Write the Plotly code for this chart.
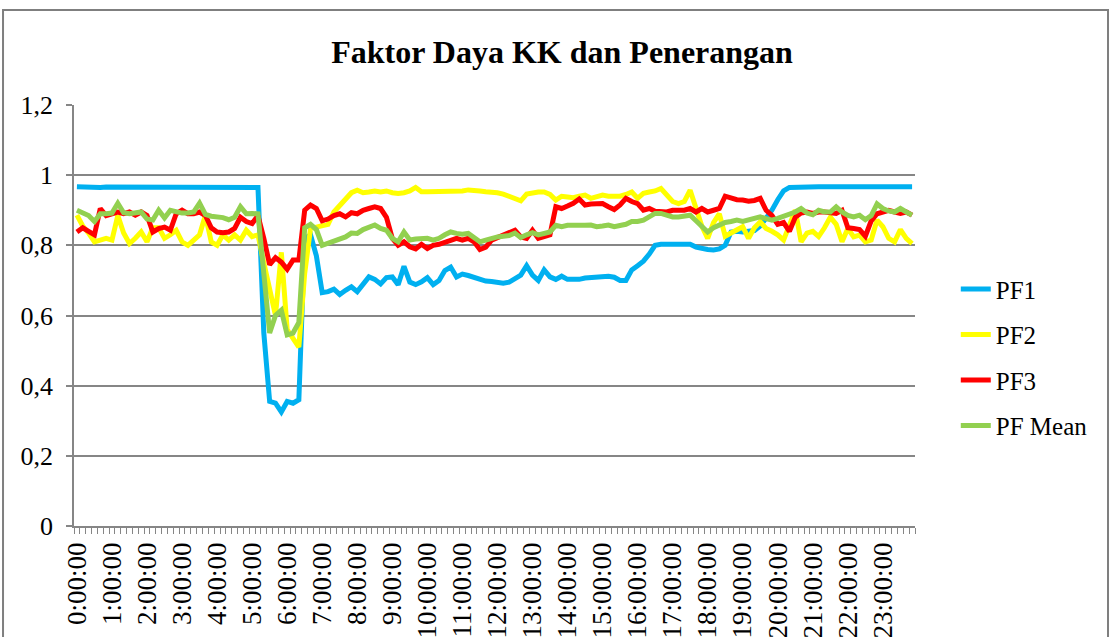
import plotly.graph_objects as go

# 10-minute categories over one day
times = [f"{h}:{m:02d}:00" for h in range(24) for m in range(0, 60, 10)]

hour_labels = ["0:00:00", "1:00:00", "2:00:00", "3:00:00", "4:00:00", "5:00:00",
               "6:00:00", "7:00:00", "8:00:00", "9:00:00", "10:00:00", "11:00:00",
               "12:00:00", "13:00:00", "14:00:00", "15:00:00", "16:00:00", "17:00:00",
               "18:00:00", "19:00:00", "20:00:00", "21:00:00", "22:00:00", "23:00:00"]

y_ticks = [0, 0.2, 0.4, 0.6, 0.8, 1.0, 1.2]
y_tick_labels = ["0", "0,2", "0,4", "0,6", "0,8", "1", "1,2"]

pf1 = [0.967, 0.966, 0.966, 0.966, 0.965, 0.966, 0.966, 0.965, 0.966, 0.966,
       0.965, 0.965, 0.964, 0.964, 0.965, 0.966, 0.966, 0.965, 0.965, 0.965,
       0.965, 0.966, 0.966, 0.966, 0.966, 0.967, 0.967, 0.967, 0.967, 0.966,
       0.966, 0.965, 0.55, 0.355, 0.35, 0.325, 0.355, 0.35, 0.36, 0.82,
       0.83, 0.77, 0.665, 0.668, 0.675, 0.66, 0.672, 0.682, 0.668, 0.69,
       0.71, 0.703, 0.69, 0.708, 0.71, 0.688, 0.74, 0.695, 0.688, 0.696,
       0.708, 0.688, 0.70, 0.728, 0.738, 0.71, 0.718, 0.714, 0.708, 0.702,
       0.698, 0.697, 0.695, 0.692, 0.695, 0.705, 0.715, 0.742, 0.715, 0.70,
       0.73, 0.71, 0.703, 0.712, 0.703, 0.703, 0.703, 0.707, 0.709, 0.709,
       0.71, 0.712, 0.709, 0.70, 0.70, 0.73, 0.742, 0.755, 0.775, 0.80,
       0.803, 0.803, 0.803, 0.803, 0.803, 0.803, 0.795, 0.79, 0.788, 0.787,
       0.79, 0.80, 0.838, 0.84, 0.838, 0.84, 0.842, 0.855, 0.875, 0.90,
       0.93, 0.955, 0.965, 0.966, 0.966, 0.966, 0.967, 0.967, 0.967, 0.967,
       0.967, 0.967, 0.967, 0.968, 0.968, 0.968, 0.968, 0.967, 0.967, 0.967,
       0.967, 0.967, 0.967, 0.967]

pf2 = [0.886, 0.855, 0.835, 0.81, 0.815, 0.82, 0.815, 0.885, 0.835, 0.805,
       0.82, 0.838, 0.81, 0.85, 0.85, 0.82, 0.83, 0.843, 0.81, 0.80,
       0.815, 0.83, 0.886, 0.81, 0.80, 0.83, 0.815, 0.83, 0.815, 0.843,
       0.825, 0.83, 0.75, 0.68, 0.60, 0.78, 0.56, 0.535, 0.51, 0.72,
       0.848, 0.852, 0.855, 0.86, 0.895, 0.915, 0.93, 0.95, 0.957, 0.95,
       0.952, 0.955, 0.952, 0.955, 0.95, 0.948, 0.95, 0.955, 0.965, 0.953,
       0.953, 0.953, 0.954, 0.955, 0.956, 0.956, 0.955, 0.958, 0.955, 0.955,
       0.953, 0.952, 0.95, 0.946, 0.94, 0.935, 0.927, 0.946, 0.95, 0.952,
       0.952, 0.945, 0.929, 0.94, 0.938, 0.936, 0.94, 0.943, 0.934, 0.94,
       0.943, 0.94, 0.94, 0.94, 0.945, 0.952, 0.934, 0.948, 0.952, 0.955,
       0.962, 0.945, 0.925, 0.919, 0.925, 0.957, 0.905, 0.855, 0.82, 0.865,
       0.89, 0.826, 0.835, 0.845, 0.853, 0.82, 0.85, 0.867, 0.848, 0.84,
       0.83, 0.815, 0.86, 0.90, 0.81, 0.835, 0.84, 0.825, 0.85, 0.88,
       0.86, 0.81, 0.848, 0.824, 0.829, 0.81, 0.815, 0.872, 0.853, 0.82,
       0.81, 0.845, 0.82, 0.805]

pf3 = [0.838, 0.85, 0.84, 0.83, 0.905, 0.885, 0.89, 0.895, 0.89, 0.895,
       0.886, 0.895, 0.885, 0.838, 0.848, 0.852, 0.843, 0.89, 0.90, 0.89,
       0.89, 0.895, 0.885, 0.85, 0.838, 0.836, 0.838, 0.848, 0.88, 0.868,
       0.862, 0.885, 0.82, 0.745, 0.765, 0.752, 0.732, 0.758, 0.758, 0.90,
       0.915, 0.905, 0.87, 0.875, 0.885, 0.89, 0.881, 0.893, 0.89, 0.90,
       0.905, 0.91, 0.905, 0.88, 0.82, 0.80, 0.81, 0.796, 0.79, 0.803,
       0.791, 0.80, 0.803, 0.808, 0.815, 0.82, 0.815, 0.82, 0.81, 0.788,
       0.795, 0.815, 0.822, 0.828, 0.835, 0.843, 0.824, 0.82, 0.843, 0.82,
       0.825, 0.83, 0.91, 0.905, 0.912, 0.92, 0.932, 0.915, 0.918, 0.919,
       0.919, 0.91, 0.902, 0.915, 0.934, 0.925, 0.919, 0.90, 0.905, 0.897,
       0.895, 0.895, 0.90, 0.90, 0.90, 0.905, 0.895, 0.905, 0.895, 0.90,
       0.905, 0.94, 0.935, 0.93, 0.929, 0.926, 0.928, 0.934, 0.90, 0.885,
       0.86, 0.865, 0.84, 0.88, 0.892, 0.895, 0.891, 0.895, 0.895, 0.893,
       0.891, 0.90, 0.85, 0.848, 0.845, 0.826, 0.87, 0.89, 0.895, 0.90,
       0.895, 0.891, 0.895, 0.886]

pf_mean = [0.90, 0.893, 0.885, 0.868, 0.89, 0.89, 0.892, 0.92, 0.893, 0.89,
           0.891, 0.895, 0.875, 0.872, 0.90, 0.878, 0.90, 0.895, 0.892, 0.892,
           0.895, 0.92, 0.888, 0.883, 0.881, 0.879, 0.873, 0.88, 0.91, 0.89,
           0.891, 0.89, 0.72, 0.55, 0.60, 0.615, 0.545, 0.55, 0.58, 0.85,
           0.86, 0.845, 0.80, 0.806, 0.815, 0.82, 0.824, 0.835, 0.834, 0.845,
           0.852, 0.858, 0.848, 0.843, 0.82, 0.81, 0.838, 0.815, 0.818, 0.82,
           0.82, 0.815, 0.82, 0.83, 0.838, 0.834, 0.832, 0.834, 0.822, 0.81,
           0.815, 0.82, 0.824, 0.826, 0.828, 0.835, 0.822, 0.83, 0.836, 0.83,
           0.834, 0.838, 0.857, 0.853, 0.857, 0.856, 0.855, 0.857, 0.858, 0.853,
           0.855, 0.858, 0.853, 0.856, 0.86, 0.868, 0.868, 0.872, 0.882, 0.891,
           0.891, 0.887, 0.881, 0.881, 0.885, 0.886, 0.87, 0.855, 0.838, 0.85,
           0.857, 0.865, 0.868, 0.872, 0.868, 0.872, 0.878, 0.881, 0.876, 0.872,
           0.877, 0.883, 0.886, 0.895, 0.905, 0.892, 0.887, 0.90, 0.895, 0.895,
           0.91, 0.895, 0.885, 0.881, 0.886, 0.873, 0.885, 0.918, 0.905, 0.898,
           0.895, 0.905, 0.895, 0.886]

series = [("PF1", pf1, "#00B0F0"), ("PF2", pf2, "#FFFF00"),
          ("PF3", pf3, "#FF0000"), ("PF Mean", pf_mean, "#92D050")]

x_idx = list(range(len(times)))
hour_pos = [times.index(lbl) for lbl in hour_labels]

fig = go.Figure()
for name, vals, color in series:
    assert len(vals) == len(times), (name, len(vals))
    fig.add_trace(go.Scatter(x=x_idx, y=vals, name=name, mode="lines",
                             line=dict(color=color, width=5),
                             legendgroup=name, customdata=times,
                             hovertemplate="%{customdata}: %{y}<extra>" + name + "</extra>"))

FONT = "Liberation Serif, Times New Roman, serif"
grid_col = "#868686"

fig.update_layout(
    width=1113, height=637,
    margin=dict(l=74, r=198, t=105, b=111, autoexpand=False),
    paper_bgcolor="white", plot_bgcolor="white",
    font=dict(family=FONT, size=26, color="black"),
    title=dict(text="<b>Faktor Daya KK dan Penerangan</b>", x=0.505, xanchor="center",
               y=0.918, yanchor="middle", font=dict(family=FONT, size=32, color="black")),
    showlegend=True,
    legend=dict(x=1.0485, xanchor="left", y=0.617, yanchor="top",
                font=dict(family=FONT, size=25), tracegroupgap=10,
                traceorder="grouped", bgcolor="rgba(0,0,0,0)"),
    xaxis=dict(range=[-0.5, len(times) - 0.5], tickmode="array", tickvals=hour_pos,
               ticktext=hour_labels, tickangle=-90, ticks="", showgrid=False,
               zeroline=False, showline=True, linecolor=grid_col, linewidth=1.5,
               tickfont=dict(family=FONT, size=27), ticklabelstandoff=4, automargin=False,
               minor=dict(ticks="outside", ticklen=6, tickcolor=grid_col, tickwidth=1,
                          tickmode="linear", tick0=-0.5, dtick=1, showgrid=False)),
    yaxis=dict(range=[0, 1.2], tickmode="array", tickvals=y_ticks, ticktext=y_tick_labels,
               ticks="outside", ticklen=6, tickcolor=grid_col, tickwidth=1.5,
               showgrid=True, gridcolor=grid_col, gridwidth=1.5, zeroline=False,
               showline=True, linecolor=grid_col, linewidth=1.5, automargin=False,
               tickfont=dict(family=FONT, size=26), ticklabelstandoff=8),
)

# outer chart border
fig.add_shape(type="rect", xref="paper", yref="paper",
              x0=-0.0844, x1=1.2295, y0=-0.3, y1=1.2257,
              line=dict(color="#7F7F7F", width=2), fillcolor="rgba(0,0,0,0)", layer="below")

fig.write_html("out.html", config={"displayModeBar": False},
               post_script="document.body.style.margin='0';document.body.style.overflow='hidden';")
